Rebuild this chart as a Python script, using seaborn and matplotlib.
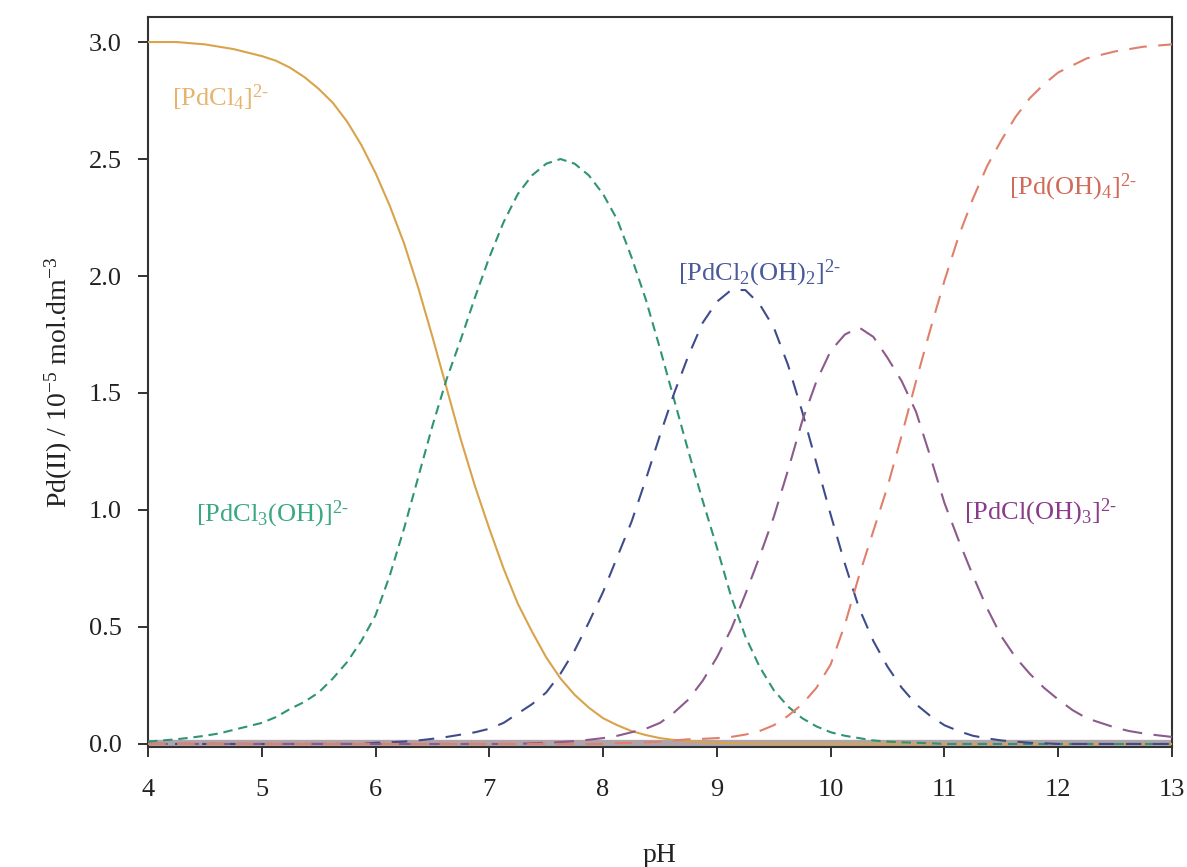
import matplotlib
matplotlib.use("Agg")
import matplotlib.pyplot as plt
import seaborn as sns
import pandas as pd

# pH grid (one row per pH unit)
ph = [4.0, 4.125, 4.25, 4.375, 4.5, 4.625, 4.75, 4.875,
      5.0, 5.125, 5.25, 5.375, 5.5, 5.625, 5.75, 5.875,
      6.0, 6.125, 6.25, 6.375, 6.5, 6.625, 6.75, 6.875,
      7.0, 7.125, 7.25, 7.375, 7.5, 7.625, 7.75, 7.875,
      8.0, 8.125, 8.25, 8.375, 8.5, 8.625, 8.75, 8.875,
      9.0, 9.125, 9.25, 9.375, 9.5, 9.625, 9.75, 9.875,
      10.0, 10.125, 10.25, 10.375, 10.5, 10.625, 10.75, 10.875,
      11.0, 11.125, 11.25, 11.375, 11.5, 11.625, 11.75, 11.875,
      12.0, 12.125, 12.25, 12.375, 12.5, 12.625, 12.75, 12.875,
      13.0]

# species concentrations (10^-5 mol/dm3)
pdcl4 = [3.00, 3.00, 3.00, 2.995, 2.99, 2.98, 2.97, 2.955,
         2.94, 2.92, 2.89, 2.85, 2.80, 2.74, 2.66, 2.56,
         2.44, 2.30, 2.14, 1.95, 1.74, 1.52, 1.30, 1.10,
         0.92, 0.75, 0.60, 0.48, 0.37, 0.28, 0.21, 0.155,
         0.11, 0.08, 0.055, 0.038, 0.025, 0.017, 0.012, 0.008,
         0.005, 0.003, 0.002, 0.001, 0.0, 0.0, 0.0, 0.0,
         0.0, 0.0, 0.0, 0.0, 0.0, 0.0, 0.0, 0.0,
         0.0, 0.0, 0.0, 0.0, 0.0, 0.0, 0.0, 0.0,
         0.0, 0.0, 0.0, 0.0, 0.0, 0.0, 0.0, 0.0,
         0.0]
pdcl3oh = [0.01, 0.015, 0.02, 0.027, 0.035, 0.045, 0.06, 0.075,
           0.09, 0.115, 0.15, 0.18, 0.22, 0.28, 0.35, 0.44,
           0.55, 0.72, 0.92, 1.14, 1.36, 1.56, 1.73, 1.91,
           2.08, 2.23, 2.35, 2.43, 2.48, 2.50, 2.48, 2.43,
           2.35, 2.24, 2.08, 1.90, 1.69, 1.47, 1.25, 1.04,
           0.84, 0.63, 0.46, 0.33, 0.23, 0.16, 0.11, 0.075,
           0.05, 0.035, 0.025, 0.015, 0.01, 0.007, 0.005, 0.003,
           0.0, 0.0, 0.0, 0.0, 0.0, 0.0, 0.0, 0.0,
           0.0, 0.0, 0.0, 0.0, 0.0, 0.0, 0.0, 0.0,
           0.0]
pdcl2oh2 = [0.0, 0.0, 0.0, 0.0, 0.0, 0.0, 0.0, 0.0,
            0.0, 0.0, 0.0, 0.0, 0.0, 0.0, 0.0, 0.0,
            0.005, 0.007, 0.01, 0.015, 0.022, 0.03, 0.04, 0.05,
            0.065, 0.09, 0.13, 0.17, 0.22, 0.30, 0.40, 0.52,
            0.65, 0.80, 0.95, 1.13, 1.32, 1.50, 1.66, 1.80,
            1.89, 1.94, 1.94, 1.88, 1.78, 1.62, 1.42, 1.20,
            0.98, 0.77, 0.58, 0.44, 0.33, 0.24, 0.17, 0.12,
            0.08, 0.055, 0.035, 0.024, 0.015, 0.01, 0.005, 0.003,
            0.0, 0.0, 0.0, 0.0, 0.0, 0.0, 0.0, 0.0,
            0.0]
pdcloh3 = [0.0, 0.0, 0.0, 0.0, 0.0, 0.0, 0.0, 0.0,
           0.0, 0.0, 0.0, 0.0, 0.0, 0.0, 0.0, 0.0,
           0.0, 0.0, 0.0, 0.0, 0.0, 0.0, 0.0, 0.0,
           0.0, 0.0, 0.0, 0.003, 0.005, 0.008, 0.012, 0.018,
           0.025, 0.035, 0.05, 0.065, 0.09, 0.135, 0.19, 0.27,
           0.37, 0.49, 0.64, 0.80, 0.97, 1.17, 1.38, 1.55,
           1.68, 1.75, 1.78, 1.74, 1.65, 1.55, 1.42, 1.23,
           1.03, 0.87, 0.72, 0.58, 0.46, 0.37, 0.30, 0.24,
           0.19, 0.145, 0.11, 0.09, 0.07, 0.055, 0.045, 0.037,
           0.03]
pdoh4 = [0.0, 0.0, 0.0, 0.0, 0.0, 0.0, 0.0, 0.0,
         0.0, 0.0, 0.0, 0.0, 0.0, 0.0, 0.0, 0.0,
         0.0, 0.0, 0.0, 0.0, 0.0, 0.0, 0.0, 0.0,
         0.0, 0.0, 0.0, 0.0, 0.0, 0.0, 0.0, 0.0,
         0.0, 0.003, 0.005, 0.007, 0.01, 0.015, 0.02, 0.022,
         0.025, 0.03, 0.04, 0.055, 0.08, 0.12, 0.17, 0.24,
         0.34, 0.51, 0.72, 0.91, 1.10, 1.32, 1.55, 1.77,
         1.98, 2.17, 2.33, 2.47, 2.58, 2.68, 2.76, 2.82,
         2.87, 2.90, 2.93, 2.945, 2.96, 2.97, 2.98, 2.985,
         2.99]

species = ["PdCl4", "PdCl3OH", "PdCl2OH2", "PdClOH3", "PdOH4"]
line_colors = {"PdCl4": "#d9a34c", "PdCl3OH": "#2f9474", "PdCl2OH2": "#3f4c8c",
               "PdClOH3": "#8c5a8c", "PdOH4": "#e0806c"}
text_colors = {"PdCl4": "#e6b46c", "PdCl3OH": "#3aa882", "PdCl2OH2": "#4a5a9a",
               "PdClOH3": "#8a3c8a", "PdOH4": "#d26a58"}
dash_styles = {"PdCl4": "", "PdCl3OH": (4.5, 2.8), "PdCl2OH2": (7.5, 5.5),
               "PdClOH3": (9.5, 5.5), "PdOH4": (8.5, 5.5)}

labels = {"PdCl4": r"$[\mathrm{PdCl_4}]^{2\text{-}}$",
          "PdCl3OH": r"$[\mathrm{PdCl_3(OH)}]^{2\text{-}}$",
          "PdCl2OH2": r"$[\mathrm{PdCl_2(OH)_2}]^{2\text{-}}$",
          "PdClOH3": r"$[\mathrm{PdCl(OH)_3}]^{2\text{-}}$",
          "PdOH4": r"$[\mathrm{Pd(OH)_4}]^{2\text{-}}$"}
label_pos = {"PdCl4": (4.21, 2.76), "PdCl3OH": (4.42, 0.98), "PdCl2OH2": (8.66, 2.01),
             "PdClOH3": (11.17, 0.99), "PdOH4": (11.57, 2.38)}

df = pd.DataFrame({
    "pH": ph * 5,
    "conc": pdcl4 + pdcl3oh + pdcl2oh2 + pdcloh3 + pdoh4,
    "species": [s for s in species for _ in ph],
})

sns.set_theme(style="ticks")
plt.rcParams["font.family"] = ["Liberation Serif", "DejaVu Serif"]
plt.rcParams["mathtext.fontset"] = "custom"
plt.rcParams["mathtext.rm"] = "Liberation Serif"
plt.rcParams["mathtext.it"] = "Liberation Serif:italic"

fig = plt.figure(figsize=(11.87, 8.67), dpi=100)
ax = fig.add_axes([148 / 1187, 1 - 747 / 867, 1024 / 1187, 730 / 867])

# thick grey band of the minor species sitting on zero
ax.axhline(0, color="#9d8e96", lw=6, alpha=0.8, zorder=1)

sns.lineplot(data=df, x="pH", y="conc", hue="species", style="species",
             palette=line_colors, dashes=dash_styles, linewidth=1.5,
             legend=False, ax=ax, zorder=3)

for s in species:
    x, y = label_pos[s]
    ax.text(x, y, labels[s], color=text_colors[s], fontsize=19,
            ha="left", va="center")

ax.set_xlim(4, 13)
ax.set_ylim(-0.013, 3.107)
ax.set_xticks([4, 5, 6, 7, 8, 9, 10, 11, 12, 13])
ax.set_yticks([0.0, 0.5, 1.0, 1.5, 2.0, 2.5, 3.0])
ax.set_yticklabels(["0.0", "0.5", "1.0", "1.5", "2.0", "2.5", "3.0"])
ax.tick_params(axis="x", direction="out", length=7, width=1.3, pad=16,
               labelsize=19, colors="#222222")
ax.tick_params(axis="y", direction="out", length=7, width=1.3, pad=12,
               labelsize=19, colors="#222222")
ax.set_xlabel("pH", fontsize=20, labelpad=30, color="#222222")
ax.set_ylabel(r"Pd(II) / 10$^{\mathrm{-5}}$ mol.dm$^{\mathrm{-3}}$",
              fontsize=20, labelpad=10, color="#222222")
for sp in ax.spines.values():
    sp.set_color("#333333")
    sp.set_linewidth(1.5)

fig.savefig("out.png", dpi=100)
